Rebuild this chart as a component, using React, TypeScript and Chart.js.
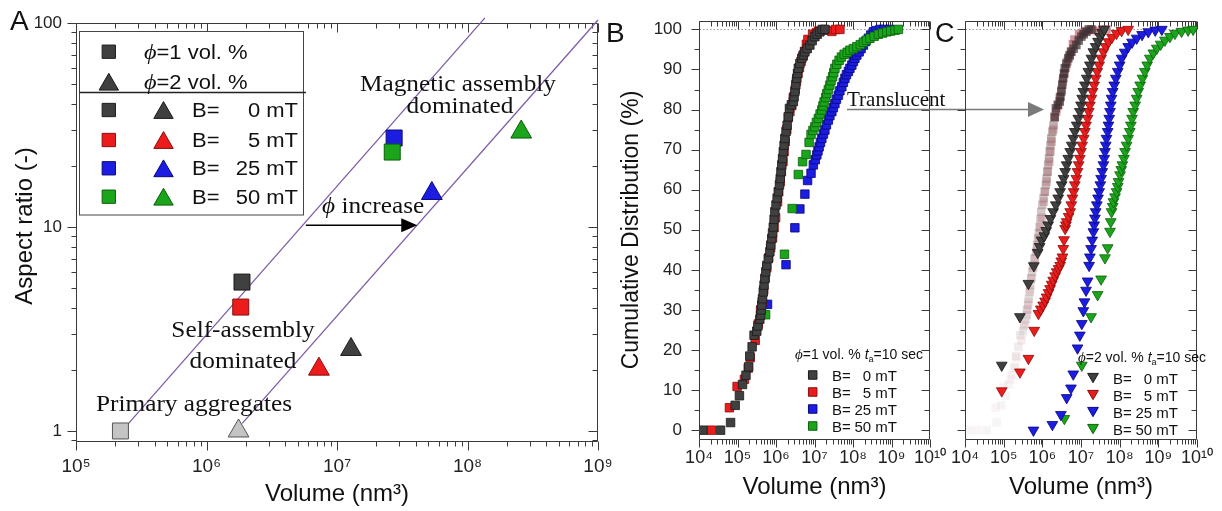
import React, { useEffect, useRef } from 'react';
import { Chart, registerables } from 'chart.js';
Chart.register(...registerables);

const SANS = "'Liberation Sans', Arial, sans-serif";
const SERIF = "'Liberation Serif', 'Times New Roman', serif";

// ---------------- Panel A data (volume nm^3, aspect ratio) ----------------
// order: primary aggregates, B=0, B=5, B=25, B=50
const aSqVol = [2.19e5, 1.87e6, 1.83e6, 2.74e7, 2.65e7];
const aSqAR = [1.0, 5.37, 4.05, 27.3, 23.3];
const aTriVol = [1.76e6, 1.28e7, 7.27e6, 5.33e7, 2.58e8];
const aTriAR = [1.0, 2.51, 2.01, 14.6, 29.2];
const aLine1Vol = [2.5e5, 1.36e8];
const aLine1AR = [1.08, 106];
const aLine2Vol = [1.88e6, 1.0e9];
const aLine2AR = [1.09, 103.5];
const aArrowVol = [5.77e6, 4.12e7];
const aArrowAR = [10.2, 10.2];
const aXTicks = [1e5, 1e6, 1e7, 1e8, 1e9];
const aYTicks = [1, 10, 100];
const fields = ['0', '5', '25', '50'];

// ---------------- Panel B data (phi = 1 vol.%): log10(volume / nm^3), cumulative % ----------------
const b0LogVol = [4.10, 4.56, 4.82, 4.94, 5.05, 5.13, 5.22, 5.29, 5.32, 5.38, 5.43, 5.50, 5.53, 5.58, 5.60, 5.615, 5.63, 5.65, 5.67, 5.69, 5.71, 5.735, 5.76, 5.80, 5.84, 5.865, 5.89, 5.91, 5.93, 5.95, 5.97, 6.00, 6.03, 6.06, 6.09, 6.11, 6.13, 6.15, 6.17, 6.19, 6.21, 6.23, 6.26, 6.29, 6.32, 6.35, 6.40, 6.45, 6.47, 6.49, 6.515, 6.54, 6.56, 6.58, 6.62, 6.67, 6.71, 6.75, 6.81, 6.88, 6.94, 7.01, 7.07, 7.14, 7.20, 7.27];
const b0Pct = [0, 0, 1.9, 6.2, 8.6, 11.4, 13.7, 15.8, 18.5, 20.8, 23.7, 24.7, 26, 27.7, 28.7, 30.0, 31.2, 32.8, 34.5, 36.2, 37.8, 39.5, 41.1, 42.8, 44.5, 46.2, 47.8, 49.2, 50.7, 52.6, 54.5, 56.2, 57.9, 59.5, 61.2, 62.8, 64.5, 66.2, 67.8, 69.5, 71.1, 72.8, 74.5, 76.1, 78.2, 80.3, 81.2, 82, 83.2, 84.5, 86.2, 87.8, 89, 90.3, 91.5, 92.8, 93.6, 94.4, 95.2, 96.1, 97.2, 98.2, 98.8, 99.4, 100, 100];
const b5LogVol = [4.32, 4.79, 4.99, 5.18, 5.28, 5.33, 5.46, 5.54, 5.60, 5.64, 5.68, 5.72, 5.76, 5.81, 5.86, 5.91, 5.95, 5.99, 6.04, 6.07, 6.11, 6.14, 6.18, 6.21, 6.24, 6.28, 6.32, 6.36, 6.41, 6.45, 6.50, 6.53, 6.57, 6.61, 6.65, 6.70, 6.74, 6.79, 6.83, 6.95, 7.05, 7.11, 7.30, 7.45, 7.55, 7.66];
const b5Pct = [0, 5.6, 10.9, 12.7, 15.5, 18.1, 22.4, 26.5, 30, 32, 35, 38, 40.5, 43, 45.5, 48, 50.5, 53, 57, 59.5, 62, 64.5, 67, 69.5, 72, 75, 78, 79.5, 81, 83, 85, 87, 89, 90.5, 92, 93.3, 94.5, 96.3, 97.5, 98.8, 99.2, 99.6, 99.8, 99.5, 100, 100];
const b25LogVol = [5.78, 6.26, 6.49, 6.62, 6.75, 6.82, 6.91, 6.97, 7.02, 7.06, 7.09, 7.12, 7.155, 7.19, 7.23, 7.27, 7.31, 7.36, 7.40, 7.45, 7.49, 7.53, 7.57, 7.62, 7.66, 7.71, 7.75, 7.79, 7.83, 7.88, 7.92, 7.97, 8.01, 8.05, 8.10, 8.16, 8.21, 8.27, 8.33, 8.40, 8.46, 8.53, 8.60, 8.70, 8.80, 8.96];
const b25Pct = [31.4, 41.3, 50.5, 55.2, 58.9, 62.3, 64.1, 66.2, 67.5, 68.7, 69.7, 70.7, 71.8, 72.8, 73.9, 74.9, 76.2, 77.4, 78.5, 79.5, 80.5, 81.5, 82.6, 83.6, 84.7, 85.7, 86.8, 87.8, 88.7, 89.5, 90.3, 91.1, 92, 92.8, 93.6, 94.4, 95.2, 96.1, 97, 97.8, 98.6, 99.4, 99.7, 100, 100, 100];
const b50LogVol = [5.73, 6.22, 6.42, 6.58, 6.69, 6.78, 6.86, 6.91, 6.96, 7.01, 7.05, 7.10, 7.145, 7.19, 7.22, 7.25, 7.29, 7.32, 7.36, 7.40, 7.43, 7.47, 7.50, 7.53, 7.58, 7.64, 7.70, 7.77, 7.85, 7.92, 8.01, 8.10, 8.19, 8.27, 8.35, 8.44, 8.55, 8.66, 8.77, 8.88, 8.98, 9.09, 9.18];
const b50Pct = [28.8, 43.9, 55.3, 63.8, 67, 68.8, 71.8, 73.8, 74.8, 75.7, 76.8, 77.8, 78.9, 79.9, 80.9, 81.9, 83, 84, 85, 86.1, 87.2, 88.2, 89.2, 90.3, 91.3, 92.3, 93.1, 93.8, 94.3, 94.8, 95.2, 95.7, 96.2, 96.8, 97.3, 97.8, 98.3, 98.8, 99.1, 99.4, 99.6, 99.8, 100];

// ---------------- Panel C data (phi = 2 vol.%): log10(volume / nm^3), cumulative % ----------------
const c0LogVol = [4.95, 5.42, 5.64, 5.78, 5.88, 5.93, 5.98, 6.05, 6.10, 6.15, 6.21, 6.28, 6.35, 6.41, 6.46, 6.50, 6.55, 6.59, 6.63, 6.67, 6.72, 6.76, 6.80, 6.84, 6.89, 6.93, 6.97, 7.00, 7.03, 7.06, 7.10, 7.15, 7.19, 7.23, 7.27, 7.32, 7.38, 7.44, 7.50, 7.55, 7.60];
const c0Pct = [16.2, 28.3, 36.6, 41, 44.3, 45.8, 47.4, 48.5, 49.8, 51.2, 52.8, 54.5, 56.2, 57.9, 59.5, 61.2, 62.8, 64.5, 66.2, 67.8, 69.5, 71.1, 72.8, 74.5, 76.1, 77.8, 79.5, 81.1, 82.8, 84.5, 86.1, 87.8, 89.5, 91.1, 92.8, 94.4, 95.7, 97, 98.2, 99.2, 100];
const c5LogVol = [4.95, 5.42, 5.64, 5.79, 5.90, 5.96, 6.02, 6.07, 6.11, 6.16, 6.20, 6.24, 6.28, 6.33, 6.37, 6.42, 6.46, 6.49, 6.52, 6.54, 6.56, 6.59, 6.61, 6.63, 6.68, 6.72, 6.75, 6.78, 6.81, 6.84, 6.88, 6.91, 6.94, 6.97, 7.00, 7.03, 7.07, 7.10, 7.13, 7.17, 7.20, 7.23, 7.27, 7.30, 7.34, 7.38, 7.42, 7.47, 7.52, 7.58, 7.64, 7.71, 7.80, 7.92, 8.05, 8.22];
const c5Pct = [9.8, 14.5, 17.9, 24.9, 29.1, 30.2, 31.2, 32.2, 33.2, 34.3, 35.3, 36.4, 37.4, 38.5, 39.5, 40.3, 41.1, 42.2, 43.2, 45.3, 47.5, 50.3, 51.2, 52, 53.3, 54.5, 56.2, 57.9, 59.5, 61.2, 62.8, 64.5, 66.2, 67.8, 69.5, 71.1, 72.8, 74.5, 76.1, 77.8, 79.5, 81.1, 82.8, 84.5, 86.1, 87.8, 89.5, 91.1, 92.8, 94.4, 95.7, 96.9, 98, 99, 99.7, 100];
const c25LogVol = [5.77, 6.26, 6.48, 6.63, 6.74, 6.80, 6.91, 6.97, 7.02, 7.06, 7.09, 7.13, 7.17, 7.21, 7.23, 7.26, 7.29, 7.32, 7.34, 7.36, 7.38, 7.41, 7.44, 7.47, 7.50, 7.52, 7.55, 7.58, 7.60, 7.62, 7.64, 7.66, 7.69, 7.71, 7.73, 7.75, 7.77, 7.79, 7.82, 7.86, 7.90, 7.95, 8.00, 8.05, 8.13, 8.22, 8.32, 8.44, 8.58, 8.74, 8.92, 9.09];
const c25Pct = [0, 1.4, 3.9, 8.1, 10.5, 14, 20.5, 23.7, 26.6, 29.8, 32, 34.9, 37.2, 41.1, 43.2, 45.3, 47.4, 49.5, 51.2, 52.9, 54.5, 56.2, 57.9, 59.5, 61.2, 62.8, 64.5, 66.2, 67.8, 69.5, 71.1, 72.8, 74.5, 76.1, 77.8, 79.5, 81.1, 82.8, 84.5, 86.1, 87.8, 89.5, 91.1, 92.8, 94.3, 95.7, 96.8, 97.8, 98.7, 99.4, 99.8, 100];
const c50LogVol = [6.57, 7.02, 7.26, 7.43, 7.52, 7.62, 7.69, 7.75, 7.77, 7.79, 7.82, 7.84, 7.88, 7.92, 7.95, 7.97, 8.01, 8.04, 8.07, 8.11, 8.14, 8.18, 8.22, 8.26, 8.29, 8.32, 8.35, 8.40, 8.44, 8.48, 8.53, 8.59, 8.65, 8.71, 8.78, 8.87, 8.96, 9.06, 9.17, 9.30, 9.43, 9.60, 9.77, 9.90];
const c50Pct = [2.9, 16.2, 28.3, 33.8, 37.7, 43, 45.5, 49.6, 52, 54.5, 55.8, 57, 58.2, 59.5, 60.8, 62, 63.7, 65, 66.2, 67.8, 69.5, 71.1, 72.8, 74.5, 76.1, 77.8, 79.5, 81.1, 82.8, 84.5, 86.1, 87.8, 89.5, 91.1, 92.8, 94.1, 95.3, 96.3, 97.3, 98.2, 99, 99.5, 99.8, 100];
const bcXTicks = [1e4, 1e5, 1e6, 1e7, 1e8, 1e9, 1e10];
const bcYTicks = [0, 10, 20, 30, 40, 50, 60, 70, 80, 90, 100];

// ---------------- styles ----------------
const COL = {
  grey: ['#c4c4c4', '#555555'],
  black: ['#404040', '#1a1a1a'],
  red: ['#ec1c1c', '#8a0c0c'],
  blue: ['#1c1ce2', '#08087a'],
  green: ['#1aa51a', '#0b5e0b'],
};
const fieldCols = [COL.black, COL.red, COL.blue, COL.green];
const PURPLE = '#7e5ca8';

const pts = (xs: number[], ys: number[]) => xs.map((x, i) => ({ x, y: ys[i] }));
const logPts = (lx: number[], ys: number[]) => lx.map((l, i) => ({ x: Math.pow(10, l), y: ys[i] }));
const SUP: Record<string, string> = { '0': '⁰', '1': '¹', '2': '²', '3': '³', '4': '⁴', '5': '⁵', '6': '⁶', '7': '⁷', '8': '⁸', '9': '⁹' };
const pow10Label = (v: number) => {
  const e = Math.round(Math.log10(v));
  return '10' + String(e).split('').map((d) => SUP[d]).join('');
};

function drawText(ctx: CanvasRenderingContext2D, s: string, x: number, y: number, font: string,
  o: { align?: CanvasTextAlign; base?: CanvasTextBaseline; color?: string; sx?: number; rot?: number } = {}) {
  ctx.save();
  ctx.translate(x, y);
  if (o.rot) ctx.rotate(o.rot);
  ctx.scale(o.sx ?? 1, 1);
  ctx.font = font;
  ctx.fillStyle = o.color ?? '#111';
  ctx.textAlign = o.align ?? 'left';
  ctx.textBaseline = o.base ?? 'alphabetic';
  ctx.fillText(s, 0, 0);
  ctx.restore();
}

function drawRuns(ctx: CanvasRenderingContext2D, runs: { t: string; font: string; dy?: number }[], x: number, y: number, sx = 1, color = '#111') {
  ctx.save();
  ctx.translate(x, y);
  ctx.scale(sx, 1);
  ctx.fillStyle = color;
  ctx.textAlign = 'left';
  ctx.textBaseline = 'alphabetic';
  let cx = 0;
  for (const r of runs) {
    ctx.font = r.font;
    ctx.fillText(r.t, cx, r.dy ?? 0);
    cx += ctx.measureText(r.t).width;
  }
  ctx.restore();
}

function marker(ctx: CanvasRenderingContext2D, style: 'rect' | 'tri' | 'triDown', x: number, y: number, r: number, fill: string, stroke: string) {
  ctx.save();
  ctx.beginPath();
  if (style === 'rect') {
    const s = r * Math.SQRT1_2;
    ctx.rect(x - s, y - s, 2 * s, 2 * s);
  } else {
    const d = style === 'tri' ? 1 : -1;
    ctx.moveTo(x, y - d * r);
    ctx.lineTo(x + r * 0.866, y + (d * r) / 2);
    ctx.lineTo(x - r * 0.866, y + (d * r) / 2);
    ctx.closePath();
  }
  ctx.fillStyle = fill;
  ctx.fill();
  ctx.lineWidth = 1;
  ctx.strokeStyle = stroke;
  ctx.stroke();
  ctx.restore();
}

function tickList(scale: any, linStep: number) {
  const out: { v: number; major: boolean }[] = [];
  const min = scale.min, max = scale.max;
  if (scale.type === 'logarithmic') {
    const e0 = Math.floor(Math.log10(min)), e1 = Math.ceil(Math.log10(max));
    for (let e = e0; e <= e1; e++) {
      for (let k = 1; k <= 9; k++) {
        const v = k * Math.pow(10, e);
        if (v >= min * 0.9999 && v <= max * 1.0001) out.push({ v, major: k === 1 });
      }
    }
  } else {
    for (let v = Math.ceil(min / linStep) * linStep; v <= max; v += linStep) {
      out.push({ v, major: Math.abs(v % (linStep * 2)) < 1e-9 });
    }
  }
  return out;
}

function drawFrame(chart: any, major: number, minor: number, dotted: boolean) {
  const { ctx, chartArea: a } = chart;
  const xs = chart.scales.x, ys = chart.scales.y;
  ctx.save();
  ctx.strokeStyle = '#3a3a3a';
  ctx.lineWidth = 1;
  const L = Math.round(a.left) + 0.5, R = Math.round(a.right) - 0.5, T = Math.round(a.top) + 0.5, B = Math.round(a.bottom) + 0.5;
  if (dotted) {
    const p = Math.round(ys.getPixelForValue(100)) + 0.5;
    ctx.save();
    ctx.strokeStyle = '#9a9a9a';
    ctx.setLineDash([1.5, 2]);
    ctx.beginPath();
    ctx.moveTo(L, p);
    ctx.lineTo(R, p);
    ctx.stroke();
    ctx.restore();
  }
  ctx.beginPath();
  ctx.rect(L, T, R - L, B - T);
  for (const t of tickList(xs, 5)) {
    const p = Math.round(xs.getPixelForValue(t.v)) + 0.5;
    const len = t.major ? major : minor;
    ctx.moveTo(p, B); ctx.lineTo(p, B + len);
    ctx.moveTo(p, T); ctx.lineTo(p, T + len);
  }
  for (const t of tickList(ys, 5)) {
    const p = Math.round(ys.getPixelForValue(t.v)) + 0.5;
    const len = t.major ? major : minor;
    ctx.moveTo(L - len, p); ctx.lineTo(L, p);
    ctx.moveTo(R - len, p); ctx.lineTo(R, p);
  }
  ctx.stroke();
  ctx.restore();
}

const baseOpts = (pad: any) => ({
  responsive: false,
  animation: false as const,
  devicePixelRatio: 1,
  events: [] as any[],
  layout: { padding: pad },
  plugins: { legend: { display: false }, tooltip: { enabled: false } },
});

const xScale = (min: number, max: number, ticks: number[], height: number, size: number, pad: number) => ({
  type: 'logarithmic' as const,
  min, max,
  grid: { display: false, drawTicks: false },
  border: { display: false },
  ticks: { autoSkip: false, maxRotation: 0, padding: pad, color: '#222', font: { family: SANS, size }, callback: (v: any) => pow10Label(Number(v)) },
  afterBuildTicks: (s: any) => { s.ticks = ticks.map((v) => ({ value: v })); },
  afterFit: (s: any) => { s.height = height; s.paddingLeft = 0; s.paddingRight = 0; },
});

// ------------------------------------------------------------
function configA(): any {
  const sqFill = [COL.grey[0], COL.black[0], COL.red[0], COL.blue[0], COL.green[0]];
  const sqLine = [COL.grey[1], COL.black[1], COL.red[1], COL.blue[1], COL.green[1]];
  return {
    type: 'scatter',
    data: {
      datasets: [
        { label: 'phi=2', data: pts(aTriVol, aTriAR), pointStyle: 'triangle', pointRadius: 12, pointBackgroundColor: sqFill, pointBorderColor: sqLine, pointBorderWidth: 1 },
        { label: 'phi=1', data: pts(aSqVol, aSqAR), pointStyle: 'rect', pointRadius: 11.3, pointBackgroundColor: sqFill, pointBorderColor: sqLine, pointBorderWidth: 1 },
        { label: 'line1', data: pts(aLine1Vol, aLine1AR), showLine: true, pointRadius: 0, borderColor: PURPLE, borderWidth: 1.3, clip: 10 },
        { label: 'line2', data: pts(aLine2Vol, aLine2AR), showLine: true, pointRadius: 0, borderColor: PURPLE, borderWidth: 1.3, clip: 10 },
      ],
    },
    options: {
      ...baseOpts({ left: 0, top: 23, right: 17, bottom: 0 }),
      scales: {
        x: xScale(1e5, 1e9, aXTicks, 70, 19, 14),
        y: {
          type: 'logarithmic', min: 0.893, max: 100,
          grid: { display: false, drawTicks: false },
          border: { display: false },
          ticks: { padding: 14, color: '#222', font: { family: SANS, size: 17 }, callback: (v: any) => String(v) },
          afterBuildTicks: (s: any) => { s.ticks = aYTicks.map((v) => ({ value: v })); },
          afterFit: (s: any) => { s.width = 76; s.paddingTop = 0; s.paddingBottom = 0; },
        },
      },
    },
    plugins: [{
      id: 'decorA',
      beforeDatasetsDraw(c: any) { drawFrame(c, 9, 5, false); },
      afterDraw(c: any) {
        const ctx: CanvasRenderingContext2D = c.ctx;
        const xs = c.scales.x, ys = c.scales.y;
        drawText(ctx, 'A', 10, 30, `28px ${SANS}`);
        drawText(ctx, 'Aspect ratio (-)', 25, 226, `24px ${SANS}`, { align: 'center', base: 'middle', rot: -Math.PI / 2 });
        drawText(ctx, 'Volume (nm³)', 337, 494, `24px ${SANS}`, { align: 'center', base: 'middle' });
        const sf = `23px ${SERIF}`;
        drawText(ctx, 'Magnetic assembly', 458, 91, sf, { align: 'center', sx: 1.1 });
        drawText(ctx, 'dominated', 460, 113, sf, { align: 'center', sx: 1.1 });
        drawText(ctx, 'Self-assembly', 243, 337, sf, { align: 'center', sx: 1.1 });
        drawText(ctx, 'dominated', 243, 368, sf, { align: 'center', sx: 1.1 });
        drawText(ctx, 'Primary aggregates', 194, 411, sf, { align: 'center', sx: 1.1 });
        drawRuns(ctx, [{ t: 'ϕ', font: `italic 23px ${SERIF}` }, { t: ' increase', font: sf }], 322, 213, 1.1);
        const x0 = xs.getPixelForValue(aArrowVol[0]), x1 = xs.getPixelForValue(aArrowVol[1]);
        const y0 = ys.getPixelForValue(aArrowAR[0]);
        ctx.save();
        ctx.strokeStyle = '#000'; ctx.fillStyle = '#000'; ctx.lineWidth = 1.5;
        ctx.beginPath(); ctx.moveTo(x0, y0); ctx.lineTo(x1 - 14, y0); ctx.stroke();
        ctx.beginPath(); ctx.moveTo(x1, y0); ctx.lineTo(x1 - 16, y0 - 7); ctx.lineTo(x1 - 16, y0 + 7); ctx.closePath(); ctx.fill();
        ctx.restore();
        // legend
        ctx.save();
        ctx.fillStyle = '#fff';
        ctx.fillRect(80, 32, 224, 183);
        ctx.strokeStyle = '#444'; ctx.lineWidth = 1;
        ctx.strokeRect(79.5, 31.5, 224, 183.5);
        ctx.strokeStyle = '#222'; ctx.lineWidth = 1.3;
        ctx.beginPath(); ctx.moveTo(79.5, 92.5); ctx.lineTo(306, 92.5); ctx.stroke();
        ctx.restore();
        const lf = `20px ${SANS}`;
        marker(ctx, 'rect', 108.8, 51.7, 9.4, COL.black[0], COL.black[1]);
        drawRuns(ctx, [{ t: 'ϕ', font: `italic 22px ${SERIF}` }, { t: '=1 vol. %', font: lf }], 144, 59, 1.1);
        marker(ctx, 'tri', 108.8, 81.7 + 2.8, 11.2, COL.black[0], COL.black[1]);
        drawRuns(ctx, [{ t: 'ϕ', font: `italic 22px ${SERIF}` }, { t: '=2 vol. %', font: lf }], 144, 89, 1.1);
        const rows = [110, 140, 168.3, 196.7];
        rows.forEach((ry, i) => {
          marker(ctx, 'rect', 108.8, ry, 9.4, fieldCols[i][0], fieldCols[i][1]);
          marker(ctx, 'tri', 163.5, ry + 2.8, 11.2, fieldCols[i][0], fieldCols[i][1]);
          drawText(ctx, 'B=', 192, ry + 7, lf, { sx: 1.1 });
          drawText(ctx, `${fields[i]} mT`, 298, ry + 7, lf, { align: 'right', sx: 1.1 });
        });
      },
    }],
  };
}

const bcY = (width: number, showLabels: boolean) => ({
  type: 'linear' as const, min: -2.2, max: 102.1,
  grid: { display: false, drawTicks: false },
  border: { display: false },
  ticks: { display: showLabels, padding: 17, color: '#222', font: { family: SANS, size: 17 } },
  afterBuildTicks: (s: any) => { s.ticks = bcYTicks.map((v) => ({ value: v })); },
  afterFit: (s: any) => { s.width = width; s.paddingTop = 0; s.paddingBottom = 0; },
});

const sqSet = (label: string, lx: number[], ys: number[], col: string[]) => ({
  label, data: logPts(lx, ys), pointStyle: 'rect', pointRadius: 6, pointBackgroundColor: col[0], pointBorderColor: col[1], pointBorderWidth: 0.8,
});
const triSet = (label: string, lx: number[], ys: number[], col: string[]) => ({
  label, data: logPts(lx, ys), pointStyle: 'triangle', pointRotation: 180, pointRadius: 6.2, pointBackgroundColor: col[0], pointBorderColor: col[1], pointBorderWidth: 0.8,
});

function legendHeader(ctx: CanvasRenderingContext2D, phi: string, x: number, y: number) {
  const lf = `14px ${SANS}`;
  drawRuns(ctx, [
    { t: 'ϕ', font: `italic 15px ${SERIF}` }, { t: `=${phi} vol. % `, font: lf },
    { t: 't', font: `italic 14px ${SANS}` }, { t: 'a', font: `9px ${SANS}`, dy: 3 }, { t: '=10 sec', font: lf },
  ], x, y);
}

function configB(): any {
  const OX = 600;
  return {
    type: 'scatter',
    data: {
      datasets: [
        sqSet('B=0 mT', b0LogVol, b0Pct, COL.black),
        sqSet('B=5 mT', b5LogVol, b5Pct, COL.red),
        sqSet('B=50 mT', b50LogVol, b50Pct, COL.green),
        sqSet('B=25 mT', b25LogVol, b25Pct, COL.blue),
      ],
    },
    options: {
      ...baseOpts({ left: 0, top: 21, right: 622 - 330, bottom: 0 }),
      scales: { x: xScale(1e4, 1e10, bcXTicks, 72, 18, 8), y: bcY(99, true) },
    },
    plugins: [{
      id: 'decorB',
      beforeDatasetsDraw(c: any) { drawFrame(c, 8, 5, true); },
      afterDraw(c: any) {
        const ctx: CanvasRenderingContext2D = c.ctx;
        ctx.save();
        ctx.translate(-OX, 0);
        drawText(ctx, 'B', 606, 42, `28px ${SANS}`);
        drawText(ctx, 'Cumulative Distribution (%)', 632, 230, `23px ${SANS}`, { align: 'center', base: 'middle', rot: -Math.PI / 2 });
        drawText(ctx, 'Volume (nm³)', 814.5, 487, `24px ${SANS}`, { align: 'center', base: 'middle' });
        legendHeader(ctx, '1', 795, 359);
        const lf = `15px ${SANS}`;
        const rows = [375, 392, 409, 426];
        rows.forEach((ry, i) => {
          marker(ctx, 'rect', 812.7, ry, 6, fieldCols[i][0], fieldCols[i][1]);
          drawText(ctx, 'B=', 832, ry + 5.5, lf);
          drawText(ctx, `${fields[i]} mT`, 897, ry + 5.5, lf, { align: 'right' });
        });
        drawText(ctx, 'Translucent', 847, 106, `21px ${SERIF}`);
        ctx.strokeStyle = '#7a7a7a'; ctx.fillStyle = '#7a7a7a'; ctx.lineWidth = 1.5;
        ctx.beginPath(); ctx.moveTo(847, 109.5); ctx.lineTo(1030, 109.5); ctx.stroke();
        ctx.beginPath(); ctx.moveTo(1044, 109.5); ctx.lineTo(1028, 102); ctx.lineTo(1028, 117); ctx.closePath(); ctx.fill();
        ctx.restore();
      },
    }],
  };
}

function configC(): any {
  const OX = 930;
  const transFill = (tint: number[], top: string) => (c: any) => {
    const y = c.raw ? c.raw.y : 0;
    if (y >= 78) return top;
    const a = 0.08 + 0.5 * Math.max(0, (y - 15) / 63);
    return `rgba(${tint[0]},${tint[1]},${tint[2]},${a.toFixed(3)})`;
  };
  const trans = (label: string, lx: number[], ys: number[], tint: number[], top: string) => ({
    label, data: logPts(lx, ys), pointStyle: 'rect', pointRadius: 6, pointBorderWidth: 0,
    pointBackgroundColor: transFill(tint, top),
  });
  return {
    type: 'scatter',
    data: {
      datasets: [
        triSet('B=0 mT', c0LogVol, c0Pct, COL.black),
        triSet('B=5 mT', c5LogVol, c5Pct, COL.red),
        triSet('B=25 mT', c25LogVol, c25Pct, COL.blue),
        triSet('B=50 mT', c50LogVol, c50Pct, COL.green),
        trans('translucent 0 mT', b0LogVol, b0Pct, [140, 112, 115], 'rgba(62,50,52,0.72)'),
        trans('translucent 5 mT', b5LogVol, b5Pct, [210, 120, 128], 'rgba(170,70,80,0.55)'),
      ],
    },
    options: {
      ...baseOpts({ left: 0, top: 21, right: 25, bottom: 0 }),
      scales: { x: xScale(1e4, 1e10, bcXTicks, 72, 18, 8), y: bcY(35, false) },
    },
    plugins: [{
      id: 'decorC',
      beforeDatasetsDraw(c: any) { drawFrame(c, 8, 5, true); },
      afterDraw(c: any) {
        const ctx: CanvasRenderingContext2D = c.ctx;
        ctx.save();
        ctx.translate(-OX, 0);
        drawText(ctx, 'C', 935, 42, `27px ${SANS}`);
        drawText(ctx, 'Volume (nm³)', 1081, 487, `24px ${SANS}`, { align: 'center', base: 'middle' });
        legendHeader(ctx, '2', 1078, 362);
        const lf = `15px ${SANS}`;
        const rows = [378, 395, 412, 429];
        rows.forEach((ry, i) => {
          marker(ctx, 'triDown', 1093, ry - 1.5, 6.2, fieldCols[i][0], fieldCols[i][1]);
          drawText(ctx, 'B=', 1113, ry + 5.5, lf);
          drawText(ctx, `${fields[i]} mT`, 1178, ry + 5.5, lf, { align: 'right' });
        });
        ctx.restore();
      },
    }],
  };
}

export default function App() {
  const refA = useRef<HTMLCanvasElement>(null);
  const refB = useRef<HTMLCanvasElement>(null);
  const refC = useRef<HTMLCanvasElement>(null);
  useEffect(() => {
    const charts = [
      new Chart(refA.current!, configA()),
      new Chart(refB.current!, configB()),
      new Chart(refC.current!, configC()),
    ];
    return () => charts.forEach((ch) => ch.destroy());
  }, []);
  return (
    <div style={{ position: 'fixed', left: 0, top: 0, width: 1222, height: 511, background: '#fff', overflow: 'hidden' }}>
      <canvas ref={refA} width={615} height={511} style={{ position: 'absolute', left: 0, top: 0, width: 615, height: 511 }} />
      <canvas ref={refB} width={622} height={511} style={{ position: 'absolute', left: 600, top: 0, width: 622, height: 511 }} />
      <canvas ref={refC} width={292} height={511} style={{ position: 'absolute', left: 930, top: 0, width: 292, height: 511 }} />
    </div>
  );
}
